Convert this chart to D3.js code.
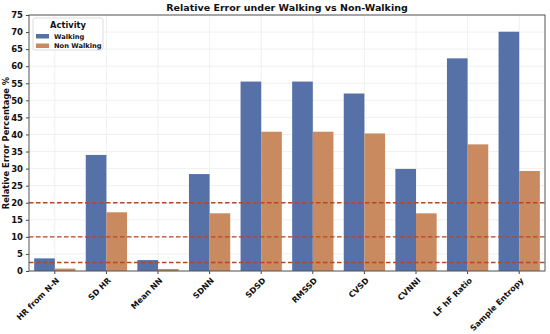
<!DOCTYPE html>
<html>
<head>
<meta charset="utf-8">
<script src="https://cdn.jsdelivr.net/npm/d3@7"></script>
<style>
  body { margin: 0; background: #fff; }
  text { font-family: "DejaVu Sans", sans-serif; font-weight: bold; }
</style>
</head>
<body>
<script>
  var width = 550;
  var height = 334;
  var margin = { top: 15, right: 5, bottom: 63, left: 29 };

  // chart values
  var categories = ["HR from N-N", "SD HR", "Mean NN", "SDNN", "SDSD", "RMSSD", "CVSD", "CVNNI", "LF hF Ratio", "Sample Entropy"];
  var activities = ["Walking", "Non Walking"];
  var walking = [3.7, 34.0, 3.2, 28.4, 55.5, 55.5, 52.0, 29.9, 62.3, 70.1];
  var nonWalking = [0.7, 17.2, 0.6, 16.9, 40.8, 40.8, 40.3, 16.9, 37.1, 29.3];
  var yTicks = d3.range(0, 80, 5);
  var thresholds = [20, 10, 2.5];
  var colors = ["#5571a7", "#c98a5f"];

  var rows = categories.map((c, i) => ({ cat: c, values: [walking[i], nonWalking[i]] }));

  const svg = d3.select("body").append("svg")
      .attr("width", width)
      .attr("height", height);

  var x = d3.scaleBand()
      .domain(categories)
      .range([margin.left, width - margin.right])
      .paddingInner(0.2)
      .paddingOuter(0.1);

  var xHue = d3.scaleBand()
      .domain(activities)
      .range([0, x.bandwidth()]);

  var y = d3.scaleLinear()
      .domain([0, 75])
      .range([height - margin.bottom, margin.top]);

  // grid
  var grid = svg.append("g").attr("class", "grid");
  grid.selectAll("line.h")
    .data(yTicks)
    .join("line")
      .attr("class", "h")
      .attr("x1", margin.left).attr("x2", width - margin.right)
      .attr("y1", d => y(d)).attr("y2", d => y(d))
      .attr("stroke", "#ececec").attr("stroke-width", 0.8);
  grid.selectAll("line.v")
    .data(categories)
    .join("line")
      .attr("class", "v")
      .attr("x1", d => x(d) + x.bandwidth() / 2).attr("x2", d => x(d) + x.bandwidth() / 2)
      .attr("y1", margin.top).attr("y2", height - margin.bottom)
      .attr("stroke", "#ececec").attr("stroke-width", 0.8);

  // bars
  var groups = svg.append("g").selectAll("g")
    .data(rows)
    .join("g")
      .attr("transform", d => `translate(${x(d.cat)},0)`);

  groups.selectAll("rect")
    .data(d => d.values.map((v, j) => ({ key: activities[j], value: v, j: j })))
    .join("rect")
      .attr("x", d => xHue(d.key))
      .attr("width", xHue.bandwidth())
      .attr("y", d => y(d.value))
      .attr("height", d => y(0) - y(d.value))
      .attr("fill", d => colors[d.j]);

  // threshold lines
  svg.append("g").selectAll("line")
    .data(thresholds)
    .join("line")
      .attr("x1", margin.left).attr("x2", width - margin.right)
      .attr("y1", d => y(d)).attr("y2", d => y(d))
      .attr("stroke", "#b4462a")
      .attr("stroke-width", 1.4)
      .attr("stroke-dasharray", "4.5,2.5");

  // axes
  var yAxis = svg.append("g")
      .attr("transform", `translate(${margin.left},0)`)
      .call(d3.axisLeft(y).tickValues(yTicks).tickSize(3).tickPadding(3));
  yAxis.select(".domain").remove();
  yAxis.selectAll("text").attr("font-size", 8.5).attr("fill", "#111");
  yAxis.selectAll("line").attr("stroke", "#444");

  var xAxis = svg.append("g")
      .attr("transform", `translate(0,${height - margin.bottom})`)
      .call(d3.axisBottom(x).tickSize(3).tickPadding(2));
  xAxis.select(".domain").remove();
  xAxis.selectAll("line").attr("stroke", "#444");
  xAxis.selectAll("text")
      .attr("font-size", 8)
      .attr("fill", "#111")
      .attr("text-anchor", "end")
      .attr("x", 0)
      .attr("y", 0)
      .attr("dy", "0.35em")
      .attr("transform", "translate(3,8) rotate(-45)");

  // frame
  svg.append("rect")
      .attr("x", margin.left).attr("y", margin.top)
      .attr("width", width - margin.left - margin.right)
      .attr("height", height - margin.top - margin.bottom)
      .attr("fill", "none")
      .attr("stroke", "#555")
      .attr("stroke-width", 1);

  // title
  svg.append("text")
      .attr("x", (margin.left + width - margin.right) / 2)
      .attr("y", 11)
      .attr("text-anchor", "middle")
      .attr("font-size", 9.5)
      .attr("fill", "#111")
      .text("Relative Error under Walking vs Non-Walking");

  // y label
  svg.append("text")
      .attr("transform", `translate(9,${(margin.top + height - margin.bottom) / 2}) rotate(-90)`)
      .attr("text-anchor", "middle")
      .attr("font-size", 8.3)
      .attr("fill", "#111")
      .text("Relative Error Percentage %");

  // legend
  var legend = svg.append("g").attr("transform", `translate(${margin.left + 4},${margin.top + 3})`);
  legend.append("rect")
      .attr("width", 70).attr("height", 32)
      .attr("rx", 2)
      .attr("fill", "#fff").attr("fill-opacity", 0.85)
      .attr("stroke", "#ddd");
  legend.append("text")
      .attr("x", 35).attr("y", 10)
      .attr("text-anchor", "middle")
      .attr("font-size", 8.3)
      .attr("fill", "#111")
      .text("Activity");
  var items = legend.selectAll("g.item")
    .data(activities)
    .join("g")
      .attr("class", "item")
      .attr("transform", (d, i) => `translate(3,${16 + i * 9.5})`);
  items.append("rect")
      .attr("width", 13).attr("height", 4.5)
      .attr("fill", (d, i) => colors[i]);
  items.append("text")
      .attr("x", 18).attr("y", 4.8)
      .attr("font-size", 6.7)
      .attr("fill", "#111")
      .text(d => d);
</script>
</body>
</html>
